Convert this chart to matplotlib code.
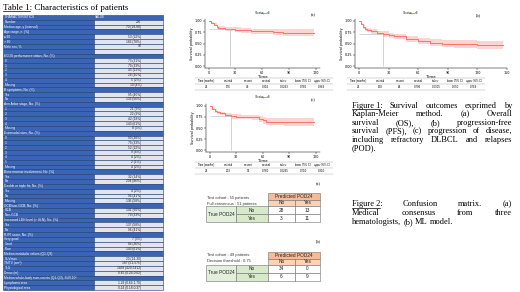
import matplotlib.pyplot as plt
from matplotlib.patches import Rectangle

W, H = 520, 292

# ---- Table 1 data (label, value); value None = section row ----
tab_rows = [
    ("CHARACTERISTICS", "VALUE"),
    ("Number", "236"),
    ("Median age, y (interval)", "70 (18-88)"),
    ("Age range, n. (%)", None),
    ("\u2264 60", "53 (22%)"),
    ("> 60", "183 (78%)"),
    ("Male sex, %", "58"),
    ("", ""),
    ("ECOG performance status, No. (%)", None),
    ("0", "73 (31%)"),
    ("1", "79 (33%)"),
    ("2", "45 (19%)"),
    ("3", "24 (10%)"),
    ("4", "5 (2%)"),
    ("Missing", "10 (4%)"),
    ("B symptoms, No. (%)", None),
    ("Yes", "95 (40%)"),
    ("No", "133 (56%)"),
    ("Ann Arbor stage, No. (%)", None),
    ("1", "21 (9%)"),
    ("2", "22 (9%)"),
    ("3", "42 (18%)"),
    ("4", "143 (61%)"),
    ("Missing", "8 (3%)"),
    ("Extranodal sites, No. (%)", None),
    ("0", "90 (38%)"),
    ("1", "79 (33%)"),
    ("2", "52 (22%)"),
    ("3", "9 (4%)"),
    ("4", "4 (2%)"),
    ("5", "2 (1%)"),
    ("Missing", "4 (2%)"),
    ("Bone marrow involvement, No. (%)", None),
    ("Yes", "32 (14%)"),
    ("No", "204 (86%)"),
    ("Double or triple hit, No. (%)", None),
    ("Yes", "4 (2%)"),
    ("No", "96 (41%)"),
    ("Missing", "136 (58%)"),
    ("GCB/non-GCB, No. (%)", None),
    ("GCB", "141 (60%)"),
    ("Non-GCB", "79 (33%)"),
    ("Increased LDH level (> ULN), No. (%)", None),
    ("Yes", "137 (58%)"),
    ("No", "96 (41%)"),
    ("R-IPI score, No. (%)", None),
    ("Very good", "7 (3%)"),
    ("Good", "86 (36%)"),
    ("Poor", "143 (61%)"),
    ("Median metabolic values (Q1-Q3)", None),
    ("SUVmax", "20 (14-30)"),
    ("TMTV (cm\u00b3)", "187 (51-575)"),
    ("TLG", "1838 (429-5412)"),
    ("Dmax (m)", "0.45 (0.24-0.62)"),
    ("Median whole-body sum-counts (Q1-Q3), SUV.10\u00b3", None),
    ("Lymphoma area", "1.29 (0.69-1.79)"),
    ("Physiological area", "0.24 (0.18-0.37)"),
]

# ---- Kaplan-Meier data ----
os_t = [0, 3, 6, 9, 11, 14, 18, 24, 30, 36, 48, 60, 72, 84, 96, 108, 118]
os_s = [1.0, 0.95, 0.91, 0.87, 0.845, 0.835, 0.825, 0.816, 0.80, 0.79, 0.775, 0.765, 0.75, 0.74, 0.735, 0.735, 0.735]
os_lo = [1.0, 0.92, 0.875, 0.83, 0.80, 0.79, 0.78, 0.766, 0.75, 0.74, 0.72, 0.71, 0.69, 0.675, 0.665, 0.66, 0.655]
os_hi = [1.0, 0.98, 0.945, 0.91, 0.89, 0.88, 0.87, 0.869, 0.855, 0.845, 0.83, 0.825, 0.815, 0.81, 0.81, 0.81, 0.81]

pfs_t = [0, 2, 4, 6, 8, 12, 18, 24, 30, 36, 48, 60, 72, 84, 96, 108, 120, 135, 146]
pfs_s = [1.0, 0.93, 0.86, 0.81, 0.79, 0.765, 0.735, 0.706, 0.68, 0.655, 0.60, 0.55, 0.52, 0.50, 0.49, 0.48, 0.47, 0.47, 0.47]
pfs_lo = [1.0, 0.90, 0.82, 0.77, 0.745, 0.72, 0.685, 0.650, 0.62, 0.595, 0.535, 0.48, 0.445, 0.42, 0.405, 0.39, 0.375, 0.37, 0.365]
pfs_hi = [1.0, 0.96, 0.90, 0.855, 0.835, 0.81, 0.785, 0.769, 0.74, 0.72, 0.67, 0.625, 0.60, 0.585, 0.575, 0.57, 0.565, 0.565, 0.565]

pod_t = [0, 3, 6, 9, 12, 18, 24, 30, 36, 42, 48, 52, 56, 60, 64, 72, 84, 96, 108, 118]
pod_s = [1.0, 0.93, 0.88, 0.85, 0.83, 0.795, 0.76, 0.755, 0.75, 0.75, 0.745, 0.74, 0.71, 0.675, 0.64, 0.64, 0.64, 0.64, 0.64, 0.64]
pod_lo = [1.0, 0.90, 0.845, 0.81, 0.79, 0.75, 0.71, 0.705, 0.70, 0.70, 0.69, 0.685, 0.645, 0.60, 0.56, 0.56, 0.555, 0.555, 0.55, 0.55]
pod_hi = [1.0, 0.96, 0.92, 0.89, 0.87, 0.84, 0.81, 0.805, 0.80, 0.80, 0.80, 0.795, 0.77, 0.745, 0.72, 0.72, 0.72, 0.72, 0.72, 0.72]

km_header = ["Time (months)", "n.at.risk", "n.event", "survival", "std.err", "lower 95% CI", "upper 95% CI"]
os_row = ["24", "176", "40", "0.816", "0.0293", "0.766", "0.869"]
pfs_row = ["24", "150", "64", "0.706", "0.0305", "0.650", "0.769"]
pod_row = ["24", "203", "51", "0.760", "0.0295", "0.710", "0.810"]

# ---- confusion matrices ----
cm_a = [[28, 13], [3, 11]]
cm_b = [[34, 0], [6, 9]]
cm_classes = ["No", "Yes"]
cm_a_notes = ["Test cohort : 55 patients", "Full consensus : 51 patients"]
cm_b_notes = ["Test cohort : 49 patients", "Decision threshold : 0.75"]

fig1_caption = ["Figure\u00a01: Survival outcomes exprimed by",
                "Kaplan-Meier method. (a) Overall",
                "survival (OS), (b) progression-free",
                "survival (PFS), (c) progression of disease,",
                "including refractory DLBCL and relapses",
                "(POD)."]
fig2_caption = ["Figure\u00a02: Confusion matrix. (a)",
                "Medical consensus from three",
                "hematologists, (b) ML model."]

serif = 'Liberation Serif'
sans = 'Liberation Sans'
red = '#f8766d'

fig = plt.figure(figsize=(W / 100, H / 100), dpi=100)
bg = fig.add_axes([0, 0, 1, 1])
bg.set_xlim(0, W)
bg.set_ylim(H, 0)
bg.axis('off')
rend = fig.canvas.get_renderer()


def px_axes(l, t, r, b):
    return fig.add_axes([l / W, 1 - b / H, (r - l) / W, (b - t) / H])


def text_w(s, **kw):
    t = bg.text(0, 0, s, **kw)
    w = t.get_window_extent(rend).width
    t.remove()
    return w


# ---- Table 1 ----
bg.text(3, 10, "Table\u00a01: Characteristics of patients", fontsize=6.5, family=serif, va='baseline')
uw = text_w("Table\u00a01", fontsize=6.5, family=serif)
bg.plot([3, 3 + uw], [11.2, 11.2], color='black', lw=0.5)

x0, x1, x2 = 3, 93.5, 163
y0 = 15
rh = (290 - y0) / len(tab_rows)
blue = '#3a65b4'
for i, (lab, val) in enumerate(tab_rows):
    y = y0 + i * rh
    if val is None or i == 0:
        bg.add_patch(Rectangle((x0, y), x2 - x0, rh, fc=blue, ec='#1f3a70', lw=0.4))
        if i == 0:
            bg.text(x1 + 1.5, y + rh / 2, val, fontsize=2.3, color='white', va='center', family=sans)
    else:
        bg.add_patch(Rectangle((x0, y), x1 - x0, rh, fc=blue, ec='#1f3a70', lw=0.4))
        bg.add_patch(Rectangle((x1, y), x2 - x1, rh, fc='#e2e5ee', ec='#1f3a70', lw=0.4))
        bg.text(141, y + rh / 2, val, fontsize=2.3, color='#222222', va='center', ha='right', family=sans)
    bg.text(x0 + 1.5, y + rh / 2, lab, fontsize=2.3, color='white', va='center', family=sans)


# ---- Kaplan-Meier panels ----
def km_panel(box, t, s, lo, hi, xmax, xticks, row):
    ax = px_axes(*box)
    ax.fill_between(t, lo, hi, step='post', color=red, alpha=0.3, lw=0)
    ax.step(t, s, where='post', color=red, lw=0.7)
    t24, s24 = float(row[0]), float(row[3])
    ax.vlines(t24, 0, s24, color='#b5b5b5', lw=0.4)
    ax.hlines(s24, 0, t24, color='#b5b5b5', lw=0.4)
    ax.set_xlim(-4, xmax)
    ax.set_ylim(-0.04, 1.04)
    ax.set_xticks(xticks)
    ax.set_yticks([0, 0.25, 0.5, 0.75, 1.0])
    ax.set_yticklabels(['0.00', '0.25', '0.50', '0.75', '1.00'])
    ax.tick_params(labelsize=2.4, length=1.2, width=0.3, pad=0.6)
    for sp in ['top', 'right']:
        ax.spines[sp].set_visible(False)
    for sp in ['left', 'bottom']:
        ax.spines[sp].set_linewidth(0.35)
    ax.set_xlabel('Time', fontsize=2.8, labelpad=0.2)
    ax.set_ylabel('Survival probability', fontsize=2.4, labelpad=1)
    ax.patch.set_alpha(0)
    return ax


def km_legend(x, y):
    bg.text(x, y, "Strata", fontsize=2.4, va='center', family=sans, color='#333333')
    bg.plot([x + 6, x + 10.5], [y, y], color=red, lw=0.6)
    bg.plot([x + 8.25], [y], marker='+', color=red, ms=2, mew=0.5)
    bg.text(x + 11.5, y, "all", fontsize=2.4, va='center', family=sans, color='#333333')


def km_table(xs, y, row, xa, xb):
    for x, h, v in zip(xs, km_header, row):
        bg.text(x, y, h, fontsize=1.9, ha='center', va='center', family=sans)
        bg.text(x, y + 6, v, fontsize=2.1, ha='center', va='center', family=sans)
    for yy in (y - 2.8, y + 3, y + 9):
        bg.plot([xa, xb], [yy, yy], color='#a0a0a0', lw=0.3)


xs_a = [206, 228, 248, 266, 284, 303, 322]
xs_b = [x + 152 for x in xs_a]

km_panel((205, 19, 320, 68), os_t, os_s, os_lo, os_hi, 125, [0, 30, 60, 90, 120], os_row)
km_panel((355, 19, 507, 68), pfs_t, pfs_s, pfs_lo, pfs_hi, 150, [0, 30, 60, 90, 120, 150], pfs_row)
km_panel((206, 104, 320, 152), pod_t, pod_s, pod_lo, pod_hi, 125, [0, 30, 60, 90, 120], pod_row)

km_legend(255, 13)
km_legend(403, 13)
km_legend(255, 97)

km_table(xs_a, 81, os_row, 195, 333)
km_table(xs_b, 81, pfs_row, 347, 485)
km_table(xs_a, 165, pod_row, 195, 333)

for lab, x, y in [("(a)", 313, 15), ("(b)", 478, 15), ("(c)", 313, 100),
                  ("(a)", 318, 184), ("(b)", 318, 241)]:
    bg.text(x, y, lab, fontsize=3.2, family=serif, ha='center', va='center')


# ---- confusion matrices ----
def cell(xa, ya, xb, yb, fc, txt, fs=3.4):
    bg.add_patch(Rectangle((xa, ya), xb - xa, yb - ya, fc=fc, ec='#707070', lw=0.4))
    bg.text((xa + xb) / 2, (ya + yb) / 2, txt, fontsize=fs, ha='center', va='center',
            family=sans, color='#222222')


def conf_matrix(top, cm, notes, note_y):
    xl, xs, xn, xy, xe = 206, 236, 268, 295, 320
    y1 = top + 6.5
    y2 = y1 + 6.5
    ys = [y2, y2 + 8, y2 + 16]
    cell(xn, top, xe, y1, '#f5bb96', "Predicted POD24")
    cell(xn, y1, xy, y2, '#f9d2b8', cm_classes[0])
    cell(xy, y1, xe, y2, '#f9d2b8', cm_classes[1])
    cell(xl, ys[0], xs, ys[2], '#e2efda', "True POD24")
    for i in range(2):
        cell(xs, ys[i], xn, ys[i + 1], '#d6e9c9', cm_classes[i])
        for j in range(2):
            xa, xb = (xn, xy) if j == 0 else (xy, xe)
            cell(xa, ys[i], xb, ys[i + 1], 'white', str(cm[i][j]))
    for k, n in enumerate(notes):
        bg.text(207, note_y + 6 * k, n, fontsize=2.9, va='center', family=sans, color='#333333')


conf_matrix(193, cm_a, cm_a_notes, 198)
conf_matrix(252, cm_b, cm_b_notes, 255)


# ---- captions (justified) ----
def justified(lines, xa, xb, base, dy, fs):
    space = text_w("a b", fontsize=fs, family=serif) - text_w("ab", fontsize=fs, family=serif)
    for k, line in enumerate(lines):
        words = line.split(' ')
        y = base + k * dy
        ws = [text_w(w, fontsize=fs, family=serif) for w in words]
        last = k == len(lines) - 1
        gap = space if (last or len(words) < 2) else (xb - xa - sum(ws)) / (len(words) - 1)
        x = xa
        for w, wd in zip(words, ws):
            bg.text(x, y, w, fontsize=fs, family=serif, va='baseline')
            x += wd + gap
        if k == 0:
            head = words[0].split(':')[0]
            uw = text_w(head, fontsize=fs, family=serif)
            bg.plot([xa, xa + uw], [y + 1.1, y + 1.1], color='black', lw=0.5)


justified(fig1_caption, 352, 512, 107.5, 8.6, 6.0)
justified(fig2_caption, 352, 512, 206.5, 8.8, 6.0)

fig.savefig('out.png', dpi=100)
